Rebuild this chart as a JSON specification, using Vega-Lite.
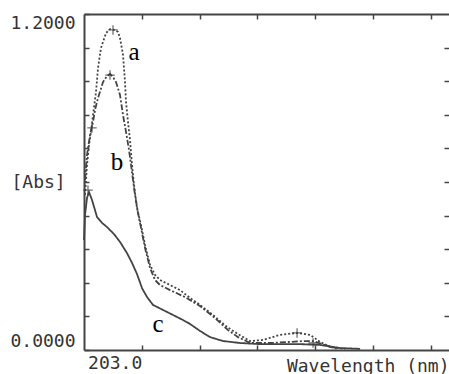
{
  "$schema": "https://vega.github.io/schema/vega-lite/v6.json",
  "width": 365,
  "height": 336,
  "autosize": {"type": "none"},
  "padding": {"left": 84, "top": 14, "right": 0, "bottom": 24},
  "background": "white",
  "config": {
    "view": {"stroke": null},
    "axis": {
      "grid": false,
      "domainColor": "#444",
      "domainWidth": 2,
      "tickColor": "#444",
      "tickWidth": 1.5,
      "labelFont": "DejaVu Sans Mono",
      "labelFontSize": 18,
      "labelColor": "#333",
      "titleFont": "DejaVu Sans Mono",
      "titleFontSize": 18,
      "titleColor": "#333",
      "titleFontWeight": "normal"
    }
  },
  "resolve": {"axis": {"x": "independent", "y": "independent"}},
  "datasets": {
    "curves": [
      {"series": "a", "wl": 183.35, "abs": 0.554},
      {"series": "a", "wl": 184.04, "abs": 0.661},
      {"series": "a", "wl": 184.73, "abs": 0.732},
      {"series": "a", "wl": 185.42, "abs": 0.779},
      {"series": "a", "wl": 186.12, "abs": 0.839},
      {"series": "a", "wl": 187.15, "abs": 0.921},
      {"series": "a", "wl": 187.85, "abs": 1.007},
      {"series": "a", "wl": 188.88, "abs": 1.079},
      {"series": "a", "wl": 190.62, "abs": 1.132},
      {"series": "a", "wl": 192.0, "abs": 1.146},
      {"series": "a", "wl": 193.73, "abs": 1.143},
      {"series": "a", "wl": 194.77, "abs": 1.136},
      {"series": "a", "wl": 195.46, "abs": 1.114},
      {"series": "a", "wl": 196.5, "abs": 1.054},
      {"series": "a", "wl": 197.19, "abs": 0.957},
      {"series": "a", "wl": 197.54, "abs": 0.886},
      {"series": "a", "wl": 198.23, "abs": 0.814},
      {"series": "a", "wl": 198.92, "abs": 0.75},
      {"series": "a", "wl": 199.62, "abs": 0.661},
      {"series": "a", "wl": 200.31, "abs": 0.589},
      {"series": "a", "wl": 201.35, "abs": 0.507},
      {"series": "a", "wl": 202.73, "abs": 0.446},
      {"series": "a", "wl": 204.12, "abs": 0.375},
      {"series": "a", "wl": 205.85, "abs": 0.304},
      {"series": "a", "wl": 207.58, "abs": 0.268},
      {"series": "a", "wl": 209.31, "abs": 0.25},
      {"series": "a", "wl": 212.77, "abs": 0.232},
      {"series": "a", "wl": 216.23, "abs": 0.214},
      {"series": "a", "wl": 219.69, "abs": 0.186},
      {"series": "a", "wl": 223.15, "abs": 0.161},
      {"series": "a", "wl": 227.65, "abs": 0.125},
      {"series": "a", "wl": 232.5, "abs": 0.082},
      {"series": "a", "wl": 236.31, "abs": 0.057},
      {"series": "a", "wl": 240.46, "abs": 0.032},
      {"series": "a", "wl": 244.96, "abs": 0.036},
      {"series": "a", "wl": 250.85, "abs": 0.054},
      {"series": "a", "wl": 256.73, "abs": 0.061},
      {"series": "a", "wl": 261.23, "abs": 0.054},
      {"series": "a", "wl": 264.69, "abs": 0.029},
      {"series": "a", "wl": 268.15, "abs": 0.011},
      {"series": "a", "wl": 273.35, "abs": 0.004},
      {"series": "b", "wl": 183.35, "abs": 0.607},
      {"series": "b", "wl": 184.04, "abs": 0.696},
      {"series": "b", "wl": 185.08, "abs": 0.768},
      {"series": "b", "wl": 186.12, "abs": 0.814},
      {"series": "b", "wl": 186.81, "abs": 0.857},
      {"series": "b", "wl": 187.85, "abs": 0.9},
      {"series": "b", "wl": 189.58, "abs": 0.957},
      {"series": "b", "wl": 190.96, "abs": 0.979},
      {"series": "b", "wl": 192.0, "abs": 0.986},
      {"series": "b", "wl": 193.04, "abs": 0.975},
      {"series": "b", "wl": 194.08, "abs": 0.957},
      {"series": "b", "wl": 195.46, "abs": 0.911},
      {"series": "b", "wl": 196.5, "abs": 0.839},
      {"series": "b", "wl": 197.54, "abs": 0.779},
      {"series": "b", "wl": 198.58, "abs": 0.714},
      {"series": "b", "wl": 199.27, "abs": 0.661},
      {"series": "b", "wl": 199.96, "abs": 0.607},
      {"series": "b", "wl": 200.65, "abs": 0.554},
      {"series": "b", "wl": 201.69, "abs": 0.489},
      {"series": "b", "wl": 202.73, "abs": 0.436},
      {"series": "b", "wl": 204.12, "abs": 0.364},
      {"series": "b", "wl": 205.85, "abs": 0.293},
      {"series": "b", "wl": 207.58, "abs": 0.25},
      {"series": "b", "wl": 209.31, "abs": 0.232},
      {"series": "b", "wl": 212.77, "abs": 0.214},
      {"series": "b", "wl": 217.96, "abs": 0.189},
      {"series": "b", "wl": 223.15, "abs": 0.157},
      {"series": "b", "wl": 228.35, "abs": 0.114},
      {"series": "b", "wl": 232.85, "abs": 0.071},
      {"series": "b", "wl": 236.31, "abs": 0.046},
      {"series": "b", "wl": 240.46, "abs": 0.025},
      {"series": "b", "wl": 247.38, "abs": 0.025},
      {"series": "b", "wl": 254.31, "abs": 0.029},
      {"series": "b", "wl": 259.5, "abs": 0.032},
      {"series": "b", "wl": 262.27, "abs": 0.032},
      {"series": "b", "wl": 265.38, "abs": 0.021},
      {"series": "b", "wl": 270.58, "abs": 0.004},
      {"series": "c", "wl": 183.0, "abs": 0.393},
      {"series": "c", "wl": 183.35, "abs": 0.482},
      {"series": "c", "wl": 184.04, "abs": 0.543},
      {"series": "c", "wl": 184.73, "abs": 0.564},
      {"series": "c", "wl": 185.77, "abs": 0.536},
      {"series": "c", "wl": 187.5, "abs": 0.475},
      {"series": "c", "wl": 189.23, "abs": 0.454},
      {"series": "c", "wl": 190.96, "abs": 0.439},
      {"series": "c", "wl": 193.38, "abs": 0.414},
      {"series": "c", "wl": 195.46, "abs": 0.386},
      {"series": "c", "wl": 197.88, "abs": 0.346},
      {"series": "c", "wl": 199.62, "abs": 0.311},
      {"series": "c", "wl": 201.35, "abs": 0.271},
      {"series": "c", "wl": 203.08, "abs": 0.221},
      {"series": "c", "wl": 204.81, "abs": 0.189},
      {"series": "c", "wl": 206.88, "abs": 0.161},
      {"series": "c", "wl": 210.35, "abs": 0.143},
      {"series": "c", "wl": 213.81, "abs": 0.125},
      {"series": "c", "wl": 217.27, "abs": 0.107},
      {"series": "c", "wl": 219.69, "abs": 0.093},
      {"series": "c", "wl": 223.15, "abs": 0.068},
      {"series": "c", "wl": 226.62, "abs": 0.046},
      {"series": "c", "wl": 231.12, "abs": 0.032},
      {"series": "c", "wl": 237.0, "abs": 0.025},
      {"series": "c", "wl": 243.92, "abs": 0.021},
      {"series": "c", "wl": 250.85, "abs": 0.021},
      {"series": "c", "wl": 257.77, "abs": 0.021},
      {"series": "c", "wl": 264.69, "abs": 0.018},
      {"series": "c", "wl": 271.62, "abs": 0.007},
      {"series": "c", "wl": 278.54, "abs": 0.004}
    ],
    "markers": [
      {"wl": 193.04, "abs": 1.143},
      {"wl": 192.0, "abs": 0.982},
      {"wl": 185.77, "abs": 0.793},
      {"wl": 184.38, "abs": 0.571},
      {"wl": 256.73, "abs": 0.061},
      {"wl": 262.27, "abs": 0.025}
    ],
    "letters": [
      {"label": "a", "wl": 200.3, "abs": 1.064},
      {"label": "b", "wl": 194.4, "abs": 0.671},
      {"label": "c", "wl": 208.6, "abs": 0.093}
    ]
  },
  "layer": [
    {
      "data": {"name": "curves"},
      "mark": {"type": "line", "strokeWidth": 1.8, "color": "#444"},
      "encoding": {
        "x": {
          "field": "wl", "type": "quantitative",
          "scale": {"domain": [183, 309.3], "nice": false, "zero": false},
          "axis": {
            "orient": "bottom",
            "values": [203, 223, 243, 263, 283, 303],
            "labelExpr": "datum.value == 203 ? '203.0' : ''",
            "tickSize": -5,
            "labelPadding": 9,
            "labelAlign": "right",
            "labelBaseline": "top",
            "title": "Wavelength (nm)",
            "titleAnchor": "end",
            "titleAlign": "right",
            "titleBaseline": "alphabetic",
            "titleX": 365,
            "titleY": 21
          }
        },
        "y": {
          "field": "abs", "type": "quantitative",
          "scale": {"domain": [0, 1.2], "nice": false, "zero": false},
          "axis": {
            "orient": "left",
            "values": [0, 0.12, 0.24, 0.36, 0.48, 0.6, 0.72, 0.84, 0.96, 1.08, 1.2],
            "labelExpr": "datum.value == 0 || datum.value == 1.2 ? format(datum.value, '.4f') : ''",
            "labelFlush": true,
            "tickSize": -5,
            "labelPadding": 14,
            "title": "[Abs]",
            "titleAngle": 0,
            "titleAlign": "left",
            "titleBaseline": "middle",
            "titleX": -73,
            "titleY": 168
          }
        },
        "strokeDash": {
          "field": "series", "type": "nominal",
          "scale": {"domain": ["a", "b", "c"], "range": [[2, 2], [6, 2, 2, 2], [1, 0]]},
          "legend": null
        }
      }
    },
    {
      "data": {"name": "markers"},
      "mark": {"type": "point", "shape": "M-1,0L1,0M0,-1L0,1", "size": 90, "filled": false, "stroke": "#333", "strokeWidth": 1.3},
      "encoding": {
        "x": {"field": "wl", "type": "quantitative", "axis": null},
        "y": {"field": "abs", "type": "quantitative", "axis": null}
      }
    },
    {
      "data": {"name": "letters"},
      "mark": {"type": "text", "font": "Liberation Serif", "fontSize": 25, "color": "black", "baseline": "middle", "align": "center"},
      "encoding": {
        "x": {
          "field": "wl", "type": "quantitative",
          "axis": {"orient": "top", "values": [203, 223, 243, 263, 283, 303], "labels": false, "tickSize": -5, "title": null}
        },
        "y": {
          "field": "abs", "type": "quantitative",
          "axis": {"orient": "right", "values": [0.12, 0.24, 0.36, 0.48, 0.6, 0.72, 0.84, 0.96, 1.08], "labels": false, "tickSize": -5, "domain": false, "title": null}
        },
        "text": {"field": "label"}
      }
    }
  ]
}
